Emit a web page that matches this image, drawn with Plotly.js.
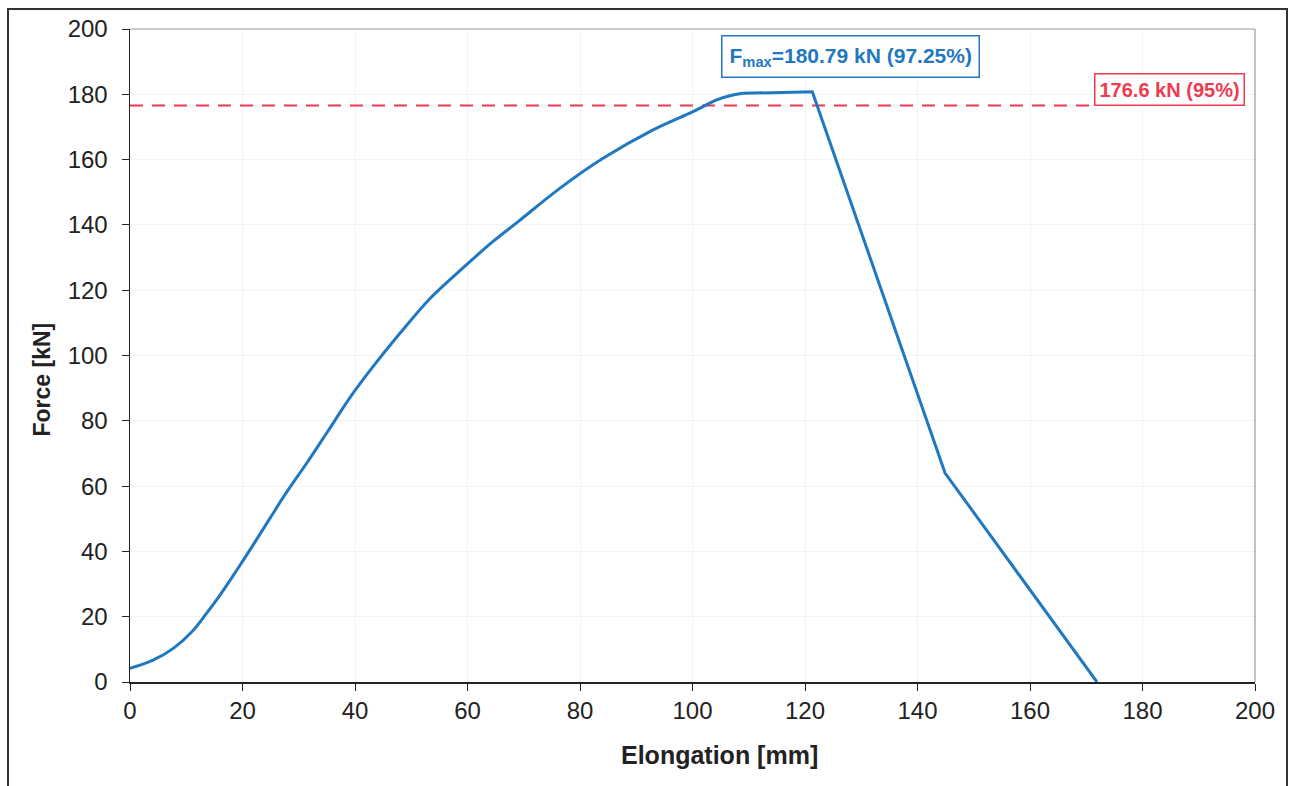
<!DOCTYPE html>
<html>
<head>
<meta charset="utf-8">
<script src="https://cdn.plot.ly/plotly-3.0.1.min.js"></script>
<style>
html,body{margin:0;padding:0;background:#fff;}
#frame{position:absolute;left:7px;top:8px;width:1281px;height:800px;border:2px solid #333;box-sizing:border-box;pointer-events:none;}
#chart{width:1298px;height:786px;}
</style>
</head>
<body>
<div id="chart"></div>
<div id="frame"></div>
<script>
// Elongation [mm]
var elongation = [0, 4.1, 7.7, 11.0, 13.6, 16.0, 19.0, 21.9, 24.9, 27.9, 31.4, 34.1, 35.6, 39.1, 43.3, 48.0, 53.3, 59.3, 64.6, 69.0, 76.4, 84.1, 93.0, 100.1, 104.3, 107.0, 109.0, 115.0, 121.3, 144.9, 171.9];
// Force [kN]
var force = [4.2, 6.7, 10.3, 15.4, 21.0, 26.6, 34.3, 42.0, 50.2, 58.3, 67.0, 74.0, 77.9, 87.1, 96.8, 106.8, 117.4, 127.0, 135.0, 141.0, 151.2, 160.4, 169.1, 174.7, 178.3, 179.7, 180.3, 180.5, 180.79, 64.0, 0];
var refLevel = 176.6;
var refEnd = 172;
var fmaxLabel = 'F<sub>max</sub>=180.79 kN (97.25%)';
var refLabel = '176.6 kN (95%)';
var xTitle = 'Elongation [mm]';
var yTitle = 'Force [kN]';
var xTicks = [0, 20, 40, 60, 80, 100, 120, 140, 160, 180, 200];
var yTicks = [0, 20, 40, 60, 80, 100, 120, 140, 160, 180, 200];

// smooth rising branch up to the plateau start, then straight segments
var split = elongation.indexOf(109.0);
var traces = [
  {x: [0, refEnd], y: [refLevel, refLevel], mode: 'lines', line: {color: '#ef3b4f', width: 2, dash: '13px,9px'}, hoverinfo: 'skip'},
  {x: elongation.slice(0, split + 1), y: force.slice(0, split + 1), mode: 'lines', line: {color: '#1f78c1', width: 3, shape: 'spline', smoothing: 1}},
  {x: elongation.slice(split), y: force.slice(split), mode: 'lines', line: {color: '#1f78c1', width: 3, shape: 'linear'}}
];

var layout = {
  width: 1298, height: 786,
  margin: {l: 130, r: 43, t: 29, b: 104},
  showlegend: false,
  paper_bgcolor: '#fff', plot_bgcolor: '#fff',
  font: {family: "'Liberation Sans', Arial, sans-serif", color: '#222', size: 24},
  xaxis: {
    range: [0, 200], tickvals: xTicks, ticktext: xTicks.map(String),
    showline: true, linecolor: '#222', linewidth: 1.5,
    ticks: 'outside', ticklen: 7, tickcolor: '#222',
    showgrid: true, gridcolor: '#f3f3f3', zeroline: false,
    tickfont: {size: 24}
  },
  yaxis: {
    range: [0, 200], tickvals: yTicks, ticktext: yTicks.map(String),
    showline: true, linecolor: '#222', linewidth: 1.5,
    ticks: 'outside', ticklen: 7, tickcolor: '#222',
    showgrid: true, gridcolor: '#f3f3f3', zeroline: false,
    tickfont: {size: 24}, ticklabelstandoff: 9
  },
  shapes: [
    {type: 'line', xref: 'paper', yref: 'paper', x0: 0, x1: 1, y0: 1, y1: 1, line: {color: '#999', width: 1.2}},
    {type: 'line', xref: 'paper', yref: 'paper', x0: 1, x1: 1, y0: 0, y1: 1, line: {color: '#999', width: 1.2}}
  ],
  annotations: [
    {x: 128, y: 191.7, xref: 'x', yref: 'y', text: '<b>' + fmaxLabel + '</b>', showarrow: false,
     font: {size: 21, color: '#1f78c1'}, bordercolor: '#1f78c1', borderwidth: 1.5, borderpad: 7, bgcolor: '#fff'},
    {x: 1.0, y: 181.6, xref: 'paper', yref: 'y', xanchor: 'right', xshift: -10, text: '<b>' + refLabel + '</b>', showarrow: false,
     font: {size: 20, color: '#ef3b4f'}, bordercolor: '#ef3b4f', borderwidth: 1.5, borderpad: 4, bgcolor: '#fff'},
    {x: 0.5, y: 0, xref: 'paper', yref: 'paper', xanchor: 'center', yanchor: 'middle', xshift: 27, yshift: -73,
     text: '<b>' + xTitle + '</b>', showarrow: false, font: {size: 25, color: '#222'}},
    {x: 0, y: 0.5, xref: 'paper', yref: 'paper', xanchor: 'center', yanchor: 'middle', xshift: -89, yshift: -24,
     text: '<b>' + yTitle + '</b>', textangle: -90, showarrow: false, font: {size: 23, color: '#222'}}
  ]
};

Plotly.newPlot('chart', traces, layout, {displayModeBar: false, staticPlot: true});
</script>
</body>
</html>
